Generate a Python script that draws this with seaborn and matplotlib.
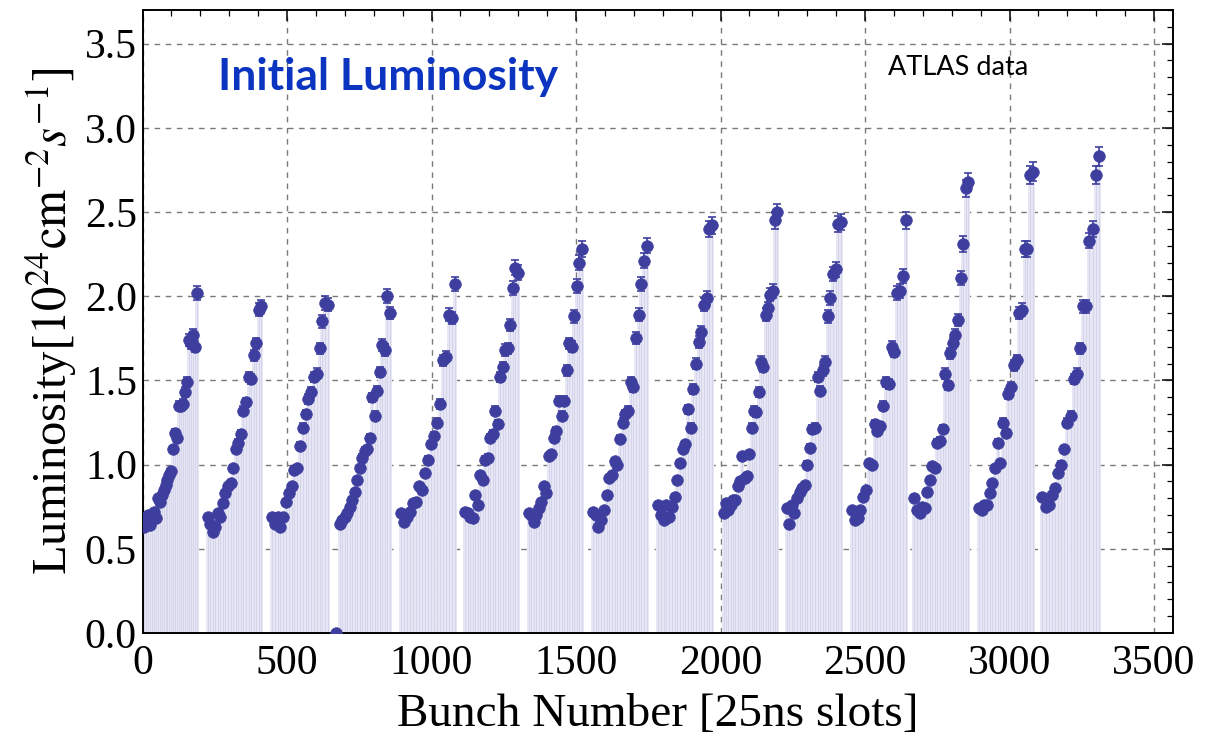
import numpy as np
import pandas as pd
import matplotlib
matplotlib.use("Agg")
import matplotlib.pyplot as plt
import seaborn as sns
from matplotlib.ticker import MultipleLocator, FormatStrFormatter

# ---------------- data ----------------
train_start = [5, 225, 448, 682, 895, 1116, 1336, 1559, 1785, 2011, 2229, 2455, 2671, 2894, 3114]
train_end = [188, 411, 642, 855, 1081, 1299, 1520, 1745, 1971, 2197, 2416, 2641, 2857, 3080, 3309]

train_01 = [0.63, 0.66, 0.70, 0.64, 0.69, 0.72, 0.68, 0.80, 0.78, 0.82, 0.85, 0.88, 0.91, 0.94,
            0.96, 1.09, 1.19, 1.16, 1.35, 1.35, 1.36, 1.43, 1.49, 1.74, 1.72, 1.77, 1.70, 2.02]
train_02 = [0.69, 0.65, 0.60, 0.63, 0.71, 0.69, 0.77, 0.83, 0.87, 0.89, 0.98, 1.09, 1.13, 1.18,
            1.32, 1.37, 1.52, 1.51, 1.65, 1.72, 1.92, 1.94]
train_03 = [0.69, 0.65, 0.69, 0.63, 0.69, 0.78, 0.83, 0.87, 0.97, 0.98, 1.11, 1.22, 1.30, 1.39,
            1.43, 1.52, 1.54, 1.69, 1.85, 1.96, 1.95]
train_04 = [0.65, 0.67, 0.69, 0.71, 0.75, 0.79, 0.84, 0.91, 0.98, 1.04, 1.08, 1.09, 1.16, 1.40,
            1.29, 1.44, 1.55, 1.71, 1.68, 2.00, 1.90]
train_05 = [0.71, 0.66, 0.69, 0.72, 0.77, 0.78, 0.87, 0.85, 0.95, 1.03, 1.12, 1.17, 1.25, 1.36,
            1.62, 1.64, 1.89, 1.87, 2.07]
train_06 = [0.72, 0.71, 0.69, 0.68, 0.82, 0.76, 0.94, 0.91, 1.03, 1.04, 1.16, 1.18, 1.32, 1.24,
            1.52, 1.58, 1.68, 1.69, 1.83, 2.05, 2.17, 2.14]
train_07 = [0.71, 0.70, 0.66, 0.70, 0.74, 0.78, 0.87, 0.83, 1.05, 1.06, 1.16, 1.20, 1.38, 1.29,
            1.38, 1.56, 1.72, 1.70, 1.88, 2.06, 2.20, 2.28]
train_08 = [0.72, 0.70, 0.63, 0.67, 0.73, 0.82, 0.92, 0.94, 1.02, 1.00, 1.15, 1.25, 1.30, 1.32,
            1.49, 1.46, 1.75, 1.89, 2.07, 2.21, 2.30]
train_09 = [0.76, 0.70, 0.67, 0.76, 0.69, 0.75, 0.81, 0.91, 1.01, 1.09, 1.12, 1.33, 1.22, 1.45,
            1.60, 1.73, 1.79, 1.95, 1.99, 2.40, 2.42]
train_10 = [0.71, 0.77, 0.73, 0.76, 0.79, 0.79, 0.87, 0.90, 1.05, 0.92, 0.93, 1.06, 1.22, 1.32,
            1.31, 1.43, 1.61, 1.58, 1.89, 1.93, 2.01, 2.03, 2.45, 2.50]
train_11 = [0.74, 0.65, 0.76, 0.71, 0.80, 0.84, 0.86, 0.88, 1.00, 1.10, 1.21, 1.22, 1.52, 1.44,
            1.56, 1.61, 1.88, 1.99, 2.13, 2.16, 2.43, 2.44]
train_12 = [0.73, 0.67, 0.68, 0.73, 0.81, 0.85, 1.01, 1.00, 1.24, 1.20, 1.23, 1.35, 1.49, 1.48,
            1.70, 1.67, 2.02, 2.03, 2.12, 2.45]
train_13 = [0.80, 0.73, 0.71, 0.75, 0.74, 0.84, 0.91, 0.99, 0.98, 1.13, 1.14, 1.21, 1.54, 1.47,
            1.66, 1.72, 1.77, 1.86, 2.11, 2.31, 2.64, 2.68]
train_14 = [0.74, 0.73, 0.76, 0.76, 0.83, 0.89, 0.98, 1.13, 1.01, 1.25, 1.19, 1.42, 1.46, 1.59,
            1.62, 1.90, 1.92, 2.28, 2.28, 2.72, 2.74]
train_15 = [0.81, 0.75, 0.76, 0.82, 0.86, 0.95, 1.00, 1.09, 1.25, 1.29, 1.51, 1.54, 1.69, 1.94,
            1.94, 2.33, 2.40, 2.72, 2.83]

empty_bunch = [670]
empty_lumi = [0.0]

rel_err = 0.02  # relative uncertainty of each measurement

trains = [train_01, train_02, train_03, train_04, train_05, train_06, train_07, train_08,
          train_09, train_10, train_11, train_12, train_13, train_14, train_15]

rows = []
for s, e, vals in zip(train_start, train_end, trains):
    xs = np.linspace(s, e, len(vals))
    for x, v in zip(xs, vals):
        rows.append((x, v))
for x, v in zip(empty_bunch, empty_lumi):
    rows.append((x, v))
df = pd.DataFrame(rows, columns=["bunch", "lumi"]).sort_values("bunch")

# ---------------- style ----------------
sns.set_style("white")
plt.rcParams["font.family"] = ["Liberation Serif", "DejaVu Serif"]
plt.rcParams["mathtext.fontset"] = "stix"
plt.rcParams["text.color"] = "black"
plt.rcParams["axes.labelcolor"] = "black"
plt.rcParams["xtick.color"] = "black"
plt.rcParams["ytick.color"] = "black"

fig = plt.figure(figsize=(12.06, 7.49), dpi=100)
ax = fig.add_axes([0.1182, 0.1549, 0.8545, 0.8318])

pt_color = "#3E3E9E"

# stems (filling to axis)
ax.vlines(df["bunch"], 0, df["lumi"], color="#E6E6F4", linewidth=2.8, zorder=1)
ax.vlines(df["bunch"], 0, df["lumi"], color="#D4D4EA", linewidth=0.7, zorder=1.1)

# error bars
ax.errorbar(df["bunch"], df["lumi"], yerr=df["lumi"] * rel_err, fmt="none",
            ecolor=pt_color, elinewidth=1.2, capsize=3, capthick=1.2, zorder=2)

sns.scatterplot(data=df, x="bunch", y="lumi", ax=ax, color=pt_color, s=70,
                edgecolor=pt_color, linewidth=0.5, legend=False, zorder=3)

ax.set_xlim(0, 3566)
ax.set_ylim(0, 3.7)

ax.xaxis.set_major_locator(MultipleLocator(500))
ax.xaxis.set_minor_locator(MultipleLocator(100))
ax.yaxis.set_major_locator(MultipleLocator(0.5))
ax.yaxis.set_minor_locator(MultipleLocator(0.1))
ax.yaxis.set_major_formatter(FormatStrFormatter("%.1f"))

ax.tick_params(which="both", direction="in", top=True, right=True, colors="black")
ax.tick_params(which="major", length=8, width=1.1, labelsize=30, pad=4)
ax.tick_params(axis="x", which="major", pad=8)
ax.tick_params(which="minor", length=4.5, width=0.9)

ax.grid(True, which="major", color="#7a7a7a", linestyle=(0, (4, 4)), linewidth=1.0)
ax.set_axisbelow(True)
for sp in ax.spines.values():
    sp.set_color("black")
    sp.set_linewidth(1.4)

ax.set_xlabel("Bunch Number [25ns slots]", fontsize=34, labelpad=8, color="black")
ax.set_ylabel(r"Luminosity$[10^{24}\mathrm{cm}^{-2}s^{-1}]$", fontsize=35, labelpad=4,
              color="black")

ax.text(0.073, 0.892, "Initial Luminosity", transform=ax.transAxes, fontsize=32,
        fontweight="bold", color="#0B35C0", family=["Lato", "DejaVu Sans"],
        ha="left", va="center")
ax.text(0.723, 0.907, "ATLAS data", transform=ax.transAxes, fontsize=19.5,
        color="black", family=["Lato", "DejaVu Sans"], ha="left", va="center")

fig.savefig("out.png", dpi=100)
